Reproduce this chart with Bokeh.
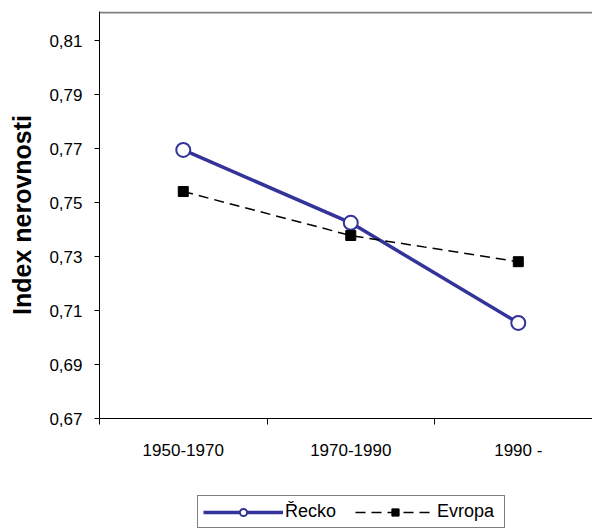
from bokeh.plotting import figure
from bokeh.layouts import column
from bokeh.models import (Range1d, FixedTicker, CustomJSTickFormatter, Span,
                          Legend, LegendItem)
from bokeh.embed import file_html
from bokeh.resources import INLINE

# ---- data ----
periods = ["1950-1970", "1970-1990", "1990 -"]
recko = [0.7695, 0.7425, 0.7054]
evropa = [0.7541, 0.7378, 0.7281]
y_ticks = [0.67, 0.69, 0.71, 0.73, 0.75, 0.77, 0.79, 0.81]
y_label = "Index nerovnosti"
series_names = ["Řecko", "Evropa"]

xs = [i + 0.5 for i in range(len(periods))]

FONT = "Liberation Sans"
blue = "#333399"

p = figure(width=592, height=478, output_backend="svg", toolbar_location=None,
           x_range=Range1d(0, 2.943), y_range=Range1d(0.67, 0.8208),
           min_border_left=99, min_border_right=0, min_border_top=11,
           min_border_bottom=60)
p.outline_line_color = None
p.xgrid.visible = False
p.ygrid.visible = False
p.background_fill_color = "white"
p.border_fill_color = "white"

# top border line
p.add_layout(Span(location=0.8204, dimension="width", line_color="#808080",
                  line_width=2))

# y axis
ya = p.yaxis[0]
ya.ticker = FixedTicker(ticks=y_ticks, minor_ticks=[])
ya.formatter = CustomJSTickFormatter(code="return tick.toFixed(2).replace('.', ',');")
ya.axis_label = y_label
ya.axis_label_text_font = FONT
ya.axis_label_text_font_style = "bold"
ya.axis_label_text_font_size = "25px"
ya.axis_label_text_color = "black"
ya.axis_label_standoff = 10
ya.major_label_text_font = FONT
ya.major_label_text_font_size = "17px"
ya.major_label_text_color = "black"
ya.major_label_standoff = 12
ya.major_tick_out = 5
ya.major_tick_in = 0
ya.minor_tick_out = 0
ya.minor_tick_in = 0
ya.axis_line_color = "black"
ya.major_tick_line_color = "black"

# x axis
xa = p.xaxis[0]
xa.ticker = FixedTicker(ticks=xs, minor_ticks=list(range(len(periods) + 1)))
xa.major_label_overrides = {x: lab for x, lab in zip(xs, periods)}
xa.major_label_text_font = FONT
xa.major_label_text_font_size = "17px"
xa.major_label_text_color = "black"
xa.major_label_standoff = 16
xa.major_tick_out = 0
xa.major_tick_in = 0
xa.minor_tick_out = 6
xa.minor_tick_in = 0
xa.minor_tick_line_color = "black"
xa.axis_line_color = "black"

# series
p.line(xs, recko, line_color=blue, line_width=3.5)
p.scatter(xs, recko, marker="circle", size=14, fill_color="white",
          line_color=blue, line_width=2)
p.line(xs, evropa, line_color="black", line_width=1.5, line_dash="10 6")
p.scatter(xs, evropa, marker="square", size=10, fill_color="black",
          line_color="black")

# ---- legend strip (series drawn out of view, only their legend shows) ----
lf = figure(width=592, height=50, output_backend="svg", toolbar_location=None,
            x_range=Range1d(100, 101), y_range=Range1d(100, 101),
            min_border_left=0, min_border_right=0, min_border_top=0,
            min_border_bottom=0)
lf.axis.visible = False
lf.grid.visible = False
lf.outline_line_color = None
lf.border_fill_color = "white"
lf.background_fill_color = "white"
k1 = lf.line(xs, recko, line_color=blue, line_width=3.5)
k2 = lf.scatter(xs, recko, marker="circle", size=12, fill_color="white",
                line_color=blue, line_width=2)
k3 = lf.line(xs, evropa, line_color="black", line_width=1.5, line_dash="10 6")
k4 = lf.scatter(xs, evropa, marker="square", size=10, fill_color="black",
                line_color="black")

legend = Legend(items=[LegendItem(label=series_names[0], renderers=[k1, k2]),
                       LegendItem(label=series_names[1], renderers=[k3, k4])],
                location=(98, 0), orientation="horizontal", margin=0,
                glyph_width=80, glyph_height=18, label_standoff=2,
                label_width=62, spacing=8, padding=5, label_text_font=FONT,
                label_text_font_size="18px", label_height=18,
                label_text_color="black",
                border_line_color="black", border_line_width=1,
                background_fill_alpha=1, background_fill_color="white")
lf.add_layout(legend, "center")

layout = column(p, lf, spacing=0)
open("out.html", "w").write(file_html(layout, INLINE))
